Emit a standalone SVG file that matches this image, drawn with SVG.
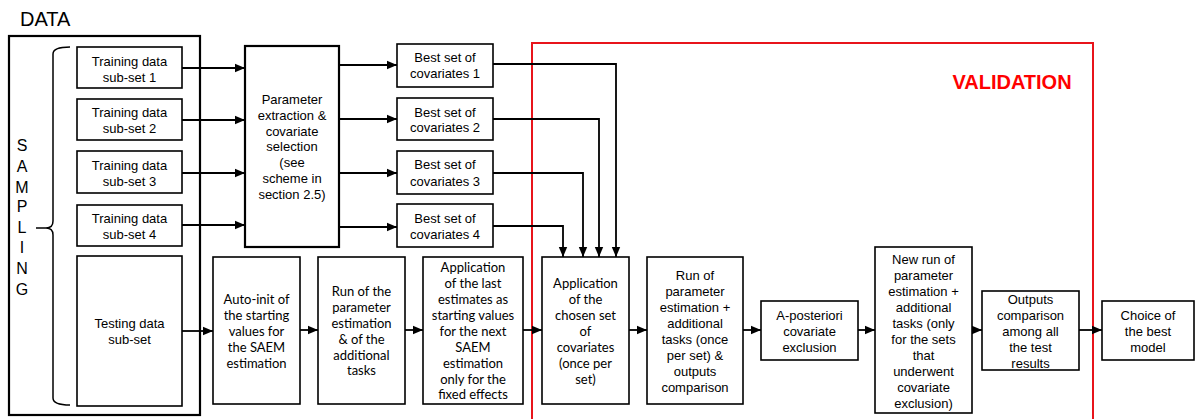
<svg xmlns="http://www.w3.org/2000/svg" width="1195" height="419" viewBox="0 0 1195 419">
<defs>
<marker id="ah" markerUnits="userSpaceOnUse" markerWidth="10" markerHeight="10" refX="10" refY="5" orient="auto">
<path d="M0,0.8 L10,5 L0,9.2 z" fill="#000"/>
</marker>
<style>
.box{fill:#fff;stroke:#000;stroke-width:1.6}
.thick{fill:none;stroke:#000;stroke-width:2.2}
.a{font-family:"Liberation Sans",Arial,sans-serif;font-size:13px;fill:#000;text-anchor:middle}
.c{font-family:Lato,"Liberation Sans",sans-serif;font-size:13px;fill:#000;text-anchor:middle}
.con{fill:none;stroke:#000;stroke-width:1.8;marker-end:url(#ah)}
.s{font-family:"Liberation Sans",Arial,sans-serif;font-size:16px;fill:#000;text-anchor:middle}
</style>
</defs>
<rect width="1195" height="419" fill="#fff"/>

<g id="data-label"><text x="20" y="26" font-family="'Liberation Sans',Arial,sans-serif" font-size="20">DATA</text></g>
<g id="data-box"><rect class="thick" x="9" y="36" width="191" height="379"/></g>

<g id="sampling">
<path d="M70,47 Q53,47 53,54 L53,221 Q53,228 46,228 L36,228 M46,228 Q53,228 53,235 L53,398 Q53,405 70,405" fill="none" stroke="#000" stroke-width="1.5"/>
<text class="s" x="22" y="151">S</text>
<text class="s" x="22" y="172">A</text>
<text class="s" x="22" y="193">M</text>
<text class="s" x="22" y="212">P</text>
<text class="s" x="22" y="233">L</text>
<text class="s" x="22" y="253">I</text>
<text class="s" x="22" y="274">N</text>
<text class="s" x="22" y="295">G</text>
</g>

<g id="validation">
<path d="M532,421 V43 H1093 V421" fill="none" stroke="#e8141b" stroke-width="2"/>
<text x="1012" y="89" font-family="'Liberation Sans',Arial,sans-serif" font-size="20" font-weight="bold" fill="#f00" text-anchor="middle">VALIDATION</text>
</g>

<g id="train1"><rect class="box" x="77" y="47" width="105" height="41"/><text class="a" x="129.5" y="66">Training data</text><text class="a" x="129.5" y="82">sub-set 1</text></g>
<g id="train2"><rect class="box" x="77" y="99" width="105" height="41"/><text class="a" x="129.5" y="117">Training data</text><text class="a" x="129.5" y="133">sub-set 2</text></g>
<g id="train3"><rect class="box" x="77" y="151" width="105" height="42"/><text class="a" x="129.5" y="170">Training data</text><text class="a" x="129.5" y="186">sub-set 3</text></g>
<g id="train4"><rect class="box" x="77" y="205" width="105" height="41"/><text class="a" x="129.5" y="223">Training data</text><text class="a" x="129.5" y="239">sub-set 4</text></g>
<g id="testing"><rect class="box" x="77" y="256" width="105" height="150"/><text class="a" x="129.5" y="328">Testing data</text><text class="a" x="129.5" y="344">sub-set</text></g>

<g id="param"><rect class="thick" x="245" y="46" width="94" height="201"/>
<text class="a" x="292" y="104">Parameter</text><text class="a" x="292" y="120">extraction &amp;</text><text class="a" x="292" y="136">covariate</text><text class="a" x="292" y="151">selection</text><text class="a" x="292" y="167">(see</text><text class="a" x="292" y="183">scheme in</text><text class="a" x="292" y="199">section 2.5)</text></g>

<g id="best1"><rect class="box" x="397" y="44" width="96" height="43"/><text class="a" x="445" y="61.5">Best set of</text><text class="a" x="445" y="77.5">covariates 1</text></g>
<g id="best2"><rect class="box" x="397" y="98" width="96" height="42"/><text class="a" x="445" y="116.5">Best set of</text><text class="a" x="445" y="131.5">covariates 2</text></g>
<g id="best3"><rect class="box" x="397" y="151" width="96" height="43"/><text class="a" x="445" y="168.5">Best set of</text><text class="a" x="445" y="185.5">covariates 3</text></g>
<g id="best4"><rect class="box" x="397" y="204" width="96" height="43"/><text class="a" x="445" y="222.5">Best set of</text><text class="a" x="445" y="238.5">covariates 4</text></g>

<g id="autoinit"><rect class="box" x="213" y="257" width="87" height="147"/>
<text class="c" x="256.5" y="303.5">Auto-init of</text><text class="c" x="256.5" y="319.5">the starting</text><text class="c" x="256.5" y="335.5">values for</text><text class="c" x="256.5" y="351.5">the SAEM</text><text class="c" x="256.5" y="367.5">estimation</text></g>

<g id="runof"><rect class="box" x="318" y="257" width="87" height="147"/>
<text class="c" x="361.5" y="295.5">Run of the</text><text class="c" x="361.5" y="311.5">parameter</text><text class="c" x="361.5" y="327.5">estimation</text><text class="c" x="361.5" y="343.5">&amp; of the</text><text class="c" x="361.5" y="359.5">additional</text><text class="c" x="361.5" y="374.5">tasks</text></g>

<g id="applast"><rect class="box" x="423" y="257" width="100" height="147"/>
<text class="c" x="473" y="271.5">Application</text><text class="c" x="473" y="287.5">of the last</text><text class="c" x="473" y="303.5">estimates as</text><text class="c" x="473" y="319.5">starting values</text><text class="c" x="473" y="335.5">for the next</text><text class="c" x="473" y="351.5">SAEM</text><text class="c" x="473" y="367.5">estimation</text><text class="c" x="473" y="383.5">only for the</text><text class="c" x="473" y="398.5">fixed effects</text></g>

<g id="appchosen"><rect class="box" x="542" y="257" width="87" height="147"/>
<text class="c" x="585.5" y="287.5">Application</text><text class="c" x="585.5" y="303.5">of the</text><text class="c" x="585.5" y="319.5">chosen set</text><text class="c" x="585.5" y="335.5">of</text><text class="c" x="585.5" y="351.5">covariates</text><text class="c" x="585.5" y="367.5">(once per</text><text class="c" x="585.5" y="383.5">set)</text></g>

<g id="runparam"><rect class="box" x="647" y="257" width="96" height="147"/>
<text class="a" x="695" y="279.5">Run of</text><text class="a" x="695" y="295.5">parameter</text><text class="a" x="695" y="311.5">estimation +</text><text class="a" x="695" y="327.5">additional</text><text class="a" x="695" y="343.5">tasks (once</text><text class="a" x="695" y="359.5">per set) &amp;</text><text class="a" x="695" y="375.5">outputs</text><text class="a" x="695" y="391.5">comparison</text></g>

<g id="aposteriori"><rect class="box" x="761" y="301" width="97" height="59"/>
<text class="a" x="809.5" y="319.5">A-posteriori</text><text class="a" x="809.5" y="335.5">covariate</text><text class="a" x="809.5" y="351.5">exclusion</text></g>

<g id="newrun"><rect class="box" x="875" y="247" width="97" height="166"/>
<text class="a" x="923.5" y="263.5">New run of</text><text class="a" x="923.5" y="279.5">parameter</text><text class="a" x="923.5" y="295.5">estimation +</text><text class="a" x="923.5" y="311.5">additional</text><text class="a" x="923.5" y="327.5">tasks (only</text><text class="a" x="923.5" y="343.5">for the sets</text><text class="a" x="923.5" y="359.5">that</text><text class="a" x="923.5" y="375.5">underwent</text><text class="a" x="923.5" y="391.5">covariate</text><text class="a" x="923.5" y="407.5">exclusion)</text></g>

<g id="outputs"><rect class="box" x="982" y="291" width="97" height="79"/>
<text class="a" x="1030.5" y="303.5">Outputs</text><text class="a" x="1030.5" y="319.5">comparison</text><text class="a" x="1030.5" y="335.5">among all</text><text class="a" x="1030.5" y="351.5">the test</text><text class="a" x="1030.5" y="367.5">results</text></g>

<g id="choice"><rect class="box" x="1102" y="301" width="92" height="59"/>
<text class="a" x="1148" y="319.5">Choice of</text><text class="a" x="1148" y="335.5">the best</text><text class="a" x="1148" y="351.5">model</text></g>

<g id="connectors">
<path class="con" d="M182,68 H245"/>
<path class="con" d="M182,120 H245"/>
<path class="con" d="M182,173 H245"/>
<path class="con" d="M182,225 H245"/>
<path class="con" d="M339,65 H397"/>
<path class="con" d="M339,119 H397"/>
<path class="con" d="M339,173 H397"/>
<path class="con" d="M339,227 H397"/>
<path class="con" d="M493,64 H616 V257"/>
<path class="con" d="M493,119 H599 V257"/>
<path class="con" d="M493,173 H583 V257"/>
<path class="con" d="M493,226 H563 V257"/>
<path class="con" d="M182,331 H213"/>
<path class="con" d="M300,330 H318"/>
<path class="con" d="M405,330 H423"/>
<path class="con" d="M523,330 H542"/>
<path class="con" d="M629,330 H647"/>
<path class="con" d="M743,330 H761"/>
<path class="con" d="M858,330 H875"/>
<path class="con" d="M972,330 H982"/>
<path class="con" d="M1079,330 H1102"/>
</g>
</svg>
